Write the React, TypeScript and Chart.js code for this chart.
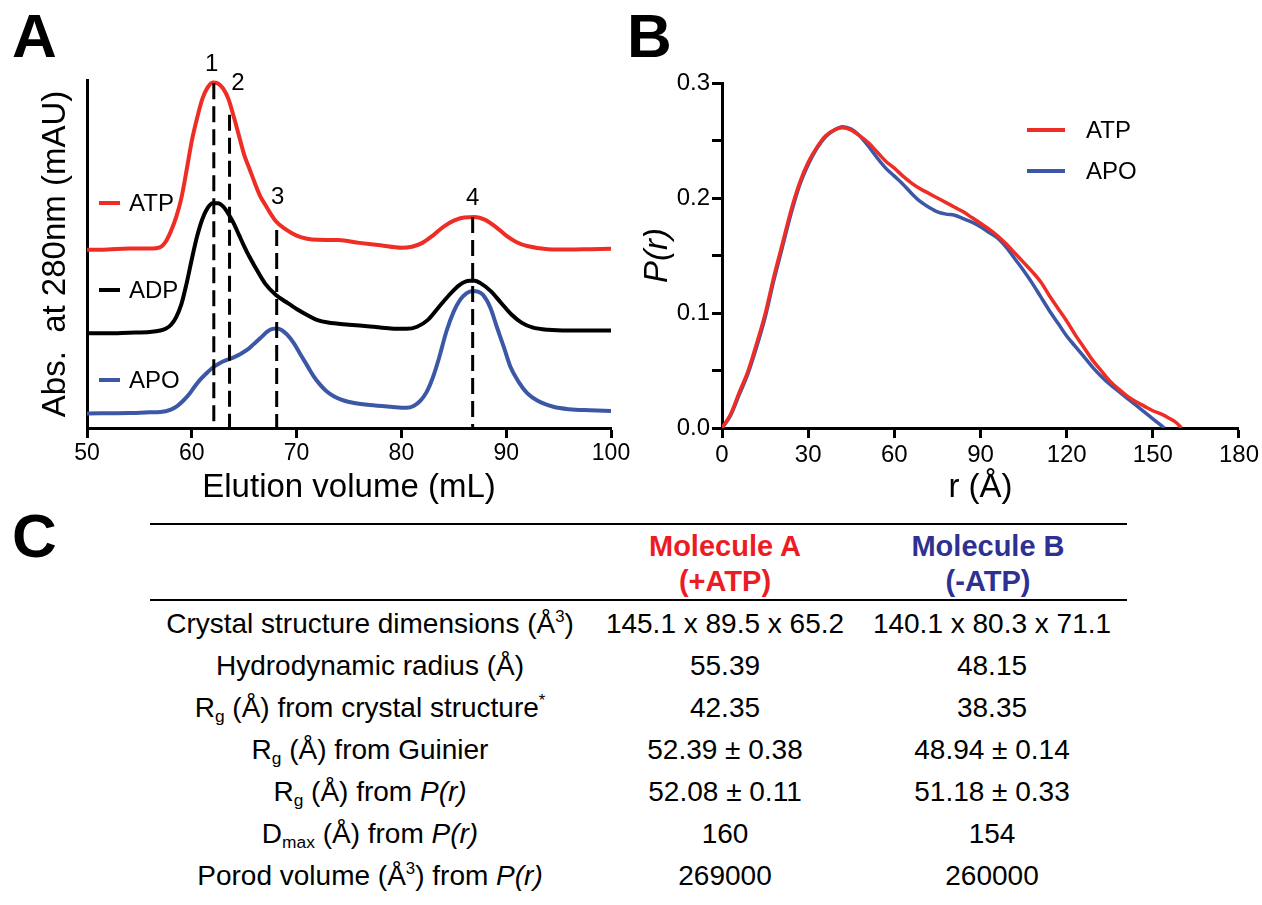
import React, { useEffect, useRef } from 'react';
import { Chart, registerables } from 'chart.js';

Chart.register(...registerables);

const FONT = '"Liberation Sans", Arial, Helvetica, sans-serif';
const RED = '#EE2D24';
const BLUE = '#3C57A6';
const BLACK = '#000000';

// ---------- Panel A: elution profiles (arbitrary absorbance units 0-100) ----------
const ATP_X = [50, 52, 54, 56, 57, 57.5, 58, 58.5, 59, 59.5, 60, 60.5, 61, 61.5, 62, 62.5, 63, 63.5, 64, 64.5, 65, 65.5, 66, 66.5, 67, 68, 69, 70, 71, 72, 74, 76, 78, 80, 81, 82, 83, 84, 85, 86, 87, 88, 89, 90, 91, 92, 94, 96, 98, 100];
const ATP_Y = [51.2, 51.3, 51.6, 51.6, 52.0, 53.5, 56.5, 60.5, 66, 74, 82.5, 89, 94.5, 97.8, 99.3, 99.0, 97.5, 94.5, 89.5, 84, 78.5, 74.5, 70.5, 66.8, 64.2, 59.5, 57, 55.3, 54.4, 54.1, 54.0, 53.2, 52.5, 51.8, 52.1, 53.2, 55.3, 57.8, 59.6, 60.5, 60.6, 59.8, 57.8, 55.3, 53.4, 52.3, 51.4, 51.3, 51.4, 51.5];

const ADP_X = [50, 52, 54, 56, 57, 57.5, 58, 58.5, 59, 59.5, 60, 60.5, 61, 61.5, 62, 62.5, 63, 63.5, 64, 64.5, 65, 65.5, 66, 67, 68, 69, 70, 71, 72, 73, 75, 77, 79, 80.5, 81.5, 82.5, 83.5, 84.5, 85.5, 86.5, 87, 87.5, 88.5, 89.5, 90.5, 91.5, 92.5, 94, 96, 100];
const ADP_Y = [27.2, 27.2, 27.4, 27.6, 28.0, 28.5, 29.6, 31.8, 35.5, 41.5, 48.5, 55, 60, 63.2, 64.6, 64.6, 63.6, 61.5, 58.8, 55.5, 52.2, 49.2, 46.5, 41.5, 38.3, 36.2, 34.2, 32.5, 31.0, 30.3, 29.7, 29.2, 28.6, 28.5, 29.1, 31.0, 34.5, 38.0, 41.0, 42.3, 42.3, 41.7, 39.4, 36.0, 32.6, 30.2, 28.9, 28.2, 28.0, 28.0];

const APO_X = [50, 54, 56, 57, 58, 58.6, 59.2, 59.8, 60.3, 60.8, 61.5, 62.1, 62.7, 63.3, 64, 64.6, 65.3, 65.9, 66.6, 67.2, 67.7, 68.1, 68.6, 69.1, 69.7, 70.3, 71, 71.6, 72.2, 72.8, 73.5, 74.5, 75.5, 77, 79, 80.5, 81.2, 81.8, 82.4, 83, 83.6, 84.3, 85, 85.6, 86.2, 86.8, 87.3, 87.8, 88.5, 89.1, 89.8, 90.4, 91.2, 92, 93, 94.5, 96, 98, 100];
const APO_Y = [4.2, 4.3, 4.5, 4.6, 5.3, 6.3, 7.9, 9.9, 12.0, 13.9, 16.0, 17.6, 18.7, 19.5, 20.3, 21.2, 22.5, 24.1, 26, 27.7, 28.5, 28.6, 28.1, 26.8, 24.5, 21.5, 18, 15.0, 12.6, 10.7, 9.2, 7.9, 7.2, 6.6, 6.1, 5.8, 6.4, 7.8, 10.3, 14.5, 20.2, 27.8, 33.5, 36.8, 38.7, 39.4, 39.2, 38.2, 34.5, 29.1, 23, 17.6, 13.2, 10.0, 7.8, 6.1, 5.4, 5.1, 4.9];

const PEAK_NAMES = ['1', '2', '3', '4'];
const PEAK_X = [62.1, 63.6, 68.1, 86.8];
const PEAK_TOP = [99.1, 90, 56.9, 60.6];
const PEAK_LABEL_X = [61.9, 64.4, 68.2, 86.8];
const PEAK_LABEL_Y = [104.5, 98.9, 66.4, 66.1];

const SERIES_A_NAMES = ['ATP', 'ADP', 'APO'];

// ---------- Panel B: pair distance distribution P(r) ----------
const PR_R_ATP = [0, 3, 6, 9, 12, 15, 18, 21, 24, 27, 30, 33, 36, 39, 42, 45, 48, 51, 54, 57, 60, 63, 66, 69, 72, 75, 78, 81, 84, 87, 90, 93, 96, 99, 102, 105, 108, 111, 114, 117, 120, 123, 126, 129, 132, 135, 138, 141, 144, 147, 150, 153, 156, 158, 160];
const PR_ATP = [0, 0.012, 0.031, 0.049, 0.073, 0.099, 0.131, 0.160, 0.189, 0.213, 0.231, 0.244, 0.254, 0.259, 0.261, 0.259, 0.254, 0.248, 0.240, 0.232, 0.226, 0.219, 0.213, 0.208, 0.204, 0.200, 0.196, 0.192, 0.188, 0.183, 0.178, 0.173, 0.167, 0.160, 0.152, 0.144, 0.136, 0.127, 0.115, 0.104, 0.093, 0.081, 0.070, 0.059, 0.050, 0.041, 0.034, 0.028, 0.023, 0.019, 0.015, 0.012, 0.008, 0.005, 0];

const PR_R_APO = [0, 3, 6, 9, 12, 15, 18, 21, 24, 27, 30, 33, 36, 39, 42, 45, 48, 51, 54, 57, 60, 63, 66, 69, 72, 75, 78, 81, 84, 87, 90, 93, 96, 99, 102, 105, 108, 111, 114, 117, 120, 123, 126, 129, 132, 135, 138, 141, 144, 147, 150, 152, 154];
const PR_APO = [0, 0.011, 0.029, 0.047, 0.070, 0.096, 0.128, 0.157, 0.186, 0.211, 0.229, 0.243, 0.253, 0.259, 0.262, 0.260, 0.254, 0.245, 0.235, 0.226, 0.219, 0.212, 0.204, 0.197, 0.192, 0.188, 0.186, 0.185, 0.182, 0.179, 0.175, 0.170, 0.165, 0.157, 0.147, 0.137, 0.126, 0.114, 0.102, 0.091, 0.080, 0.071, 0.062, 0.053, 0.045, 0.038, 0.032, 0.026, 0.020, 0.014, 0.008, 0.004, 0];

const SERIES_B_NAMES = ['ATP', 'APO'];

// ---------- Panel C: table ----------
const TABLE_HEAD_A = ['Molecule A', '(+ATP)'];
const TABLE_HEAD_B = ['Molecule B', '(-ATP)'];
const TABLE_COL_A = ['145.1 x 89.5 x 65.2', '55.39', '42.35', '52.39 ± 0.38', '52.08 ± 0.11', '160', '269000'];
const TABLE_COL_B = ['140.1 x 80.3 x 71.1', '48.15', '38.35', '48.94 ± 0.14', '51.18 ± 0.33', '154', '260000'];

const sub = (t: string) => <span style={{ fontSize: '0.62em', verticalAlign: '-0.3em', lineHeight: 0 }}>{t}</span>;
const sup = (t: string) => <span style={{ fontSize: '0.6em', verticalAlign: '0.65em', lineHeight: 0 }}>{t}</span>;

const TABLE_ROW_LABELS = [
  <>Crystal structure dimensions (Å{sup('3')})</>,
  <>Hydrodynamic radius (Å)</>,
  <>R{sub('g')} (Å) from crystal structure{sup('*')}</>,
  <>R{sub('g')} (Å) from Guinier</>,
  <>R{sub('g')} (Å) from <i>P(r)</i></>,
  <>D{sub('max')} (Å) from <i>P(r)</i></>,
  <>Porod volume (Å{sup('3')}) from <i>P(r)</i></>,
];

const pts = (xs: number[], ys: number[]) => xs.map((x, i) => ({ x, y: ys[i] }));

const annotationsA = {
  id: 'annotationsA',
  afterDatasetsDraw(chart: any) {
    const { ctx, chartArea, scales } = chart;
    const x = scales.x;
    const y = scales.y;
    ctx.save();
    ctx.fillStyle = BLACK;
    ctx.font = `24px ${FONT}`;
    ctx.textAlign = 'center';
    ctx.textBaseline = 'middle';
    PEAK_NAMES.forEach((t, i) => {
      ctx.fillText(t, x.getPixelForValue(PEAK_LABEL_X[i]), y.getPixelForValue(PEAK_LABEL_Y[i]));
    });
    // in-plot legend
    const colors = [RED, BLACK, BLUE];
    const rows = [123, 210, 300];
    ctx.textAlign = 'left';
    SERIES_A_NAMES.forEach((name, i) => {
      const yy = chartArea.top + rows[i];
      ctx.strokeStyle = colors[i];
      ctx.lineWidth = 4;
      ctx.beginPath();
      ctx.moveTo(chartArea.left + 12, yy);
      ctx.lineTo(chartArea.left + 33, yy);
      ctx.stroke();
      ctx.fillStyle = BLACK;
      ctx.fillText(name, chartArea.left + 42, yy + 1);
    });
    ctx.restore();
  },
};

const legendB = {
  id: 'legendB',
  afterDatasetsDraw(chart: any) {
    const { ctx, chartArea } = chart;
    ctx.save();
    ctx.font = `24px ${FONT}`;
    ctx.textAlign = 'left';
    ctx.textBaseline = 'middle';
    const colors = [RED, BLUE];
    const rows = [47, 88];
    SERIES_B_NAMES.forEach((name, i) => {
      const yy = chartArea.top + rows[i];
      ctx.strokeStyle = colors[i];
      ctx.lineWidth = 4;
      ctx.beginPath();
      ctx.moveTo(chartArea.left + 305, yy);
      ctx.lineTo(chartArea.left + 343, yy);
      ctx.stroke();
      ctx.fillStyle = BLACK;
      ctx.fillText(name, chartArea.left + 364, yy + 1);
    });
    ctx.restore();
  },
};

function ChartA() {
  const ref = useRef<HTMLCanvasElement>(null);
  useEffect(() => {
    const chart = new Chart(ref.current as HTMLCanvasElement, {
      type: 'line',
      data: {
        datasets: [
          ...PEAK_X.map((px, i) => ({
            label: 'Peak ' + PEAK_NAMES[i],
            data: [{ x: px, y: PEAK_TOP[i] }, { x: px, y: 0 }],
            borderColor: BLACK,
            borderWidth: 3,
            borderDash: [16, 7],
            pointRadius: 0,
            order: 0,
          })),
          { label: 'ATP', data: pts(ATP_X, ATP_Y), borderColor: RED, borderWidth: 4, pointRadius: 0, cubicInterpolationMode: 'monotone', order: 1 },
          { label: 'ADP', data: pts(ADP_X, ADP_Y), borderColor: BLACK, borderWidth: 4, pointRadius: 0, cubicInterpolationMode: 'monotone', order: 2 },
          { label: 'APO', data: pts(APO_X, APO_Y), borderColor: BLUE, borderWidth: 4, pointRadius: 0, cubicInterpolationMode: 'monotone', order: 3 },
        ],
      } as any,
      options: {
        responsive: false,
        animation: false,
        events: [],
        layout: { padding: { left: 0, top: 80, right: 29, bottom: 0 } },
        plugins: { legend: { display: false }, tooltip: { enabled: false } },
        scales: {
          x: {
            type: 'linear',
            min: 50,
            max: 100,
            ticks: { stepSize: 10, color: BLACK, font: { family: FONT, size: 23 }, padding: 2, maxRotation: 0, autoSkip: false },
            grid: { drawOnChartArea: false, drawTicks: true, tickLength: 10, tickWidth: 3, tickColor: BLACK },
            border: { display: true, color: BLACK, width: 3 },
            title: { display: true, text: 'Elution volume (mL)', color: BLACK, font: { family: FONT, size: 33 }, padding: { top: 0, bottom: 12 } },
            afterFit: (s: any) => { s.height = 92; },
          },
          y: {
            type: 'linear',
            min: 0,
            max: 100,
            ticks: { display: false },
            grid: { drawOnChartArea: false, drawTicks: false },
            border: { display: true, color: BLACK, width: 3 },
            title: { display: true, text: 'Abs.  at 280nm (mAU)', color: BLACK, font: { family: FONT, size: 33 }, padding: { top: 36, bottom: 0 } },
            afterFit: (s: any) => { s.width = 87; },
          },
        },
      } as any,
      plugins: [annotationsA],
    });
    return () => chart.destroy();
  }, []);
  return <canvas ref={ref} width={640} height={520} style={{ position: 'absolute', left: 0, top: 0 }} />;
}

function ChartB() {
  const ref = useRef<HTMLCanvasElement>(null);
  useEffect(() => {
    const chart = new Chart(ref.current as HTMLCanvasElement, {
      type: 'line',
      data: {
        datasets: [
          { label: 'ATP', data: pts(PR_R_ATP, PR_ATP), borderColor: RED, borderWidth: 3.5, pointRadius: 0, cubicInterpolationMode: 'monotone', order: 0 },
          { label: 'APO', data: pts(PR_R_APO, PR_APO), borderColor: BLUE, borderWidth: 3.5, pointRadius: 0, cubicInterpolationMode: 'monotone', order: 1 },
        ],
      } as any,
      options: {
        responsive: false,
        animation: false,
        events: [],
        layout: { padding: { left: 0, top: 83, right: 22, bottom: 0 } },
        plugins: { legend: { display: false }, tooltip: { enabled: false } },
        scales: {
          x: {
            type: 'linear',
            min: 0,
            max: 180,
            ticks: { stepSize: 30, color: BLACK, font: { family: FONT, size: 24 }, padding: 3, maxRotation: 0, autoSkip: false },
            grid: { drawOnChartArea: false, drawTicks: true, tickLength: 10, tickWidth: 3, tickColor: BLACK },
            border: { display: true, color: BLACK, width: 3 },
            title: { display: true, text: 'r (Å)', color: BLACK, font: { family: FONT, size: 33 }, padding: { top: 0, bottom: 12 } },
            afterFit: (s: any) => { s.height = 92; },
          },
          y: {
            type: 'linear',
            min: 0,
            max: 0.3,
            ticks: {
              stepSize: 0.05,
              color: BLACK,
              font: { family: FONT, size: 24 },
              padding: 2,
              autoSkip: false,
              callback: (v: any) => {
                const k = Math.round(Number(v) * 100);
                return k % 10 === 0 ? (k / 100).toFixed(1) : '';
              },
            },
            grid: { drawOnChartArea: false, drawTicks: true, tickLength: 10, tickWidth: 3, tickColor: BLACK },
            border: { display: true, color: BLACK, width: 3 },
            title: { display: true, text: 'P(r)', color: BLACK, font: { family: FONT, size: 33, style: 'italic' }, padding: { top: 18, bottom: 0 } },
            afterFit: (s: any) => { s.width = 102; },
          },
        },
      } as any,
      plugins: [legendB],
    });
    return () => chart.destroy();
  }, []);
  return <canvas ref={ref} width={642} height={520} style={{ position: 'absolute', left: 620, top: 0 }} />;
}

const centered = (x: number, y: number, extra: React.CSSProperties = {}): React.CSSProperties => ({
  position: 'absolute',
  left: x,
  top: y,
  transform: 'translate(-50%, -50%)',
  whiteSpace: 'nowrap',
  lineHeight: 1,
  ...extra,
});

function TableC() {
  const rowY = (i: number) => 624 + i * 42;
  return (
    <>
      <div style={{ position: 'absolute', left: 150, top: 523, width: 977, height: 2, background: BLACK }} />
      <div style={{ position: 'absolute', left: 150, top: 599, width: 977, height: 2, background: BLACK }} />
      {TABLE_HEAD_A.map((t, i) => (
        <div key={'ha' + i} style={centered(725, 546 + i * 35, { color: '#EC1C24', fontWeight: 'bold', fontSize: 29 })}>{t}</div>
      ))}
      {TABLE_HEAD_B.map((t, i) => (
        <div key={'hb' + i} style={centered(988, 546 + i * 35, { color: '#2E3192', fontWeight: 'bold', fontSize: 29 })}>{t}</div>
      ))}
      {TABLE_ROW_LABELS.map((lab, i) => (
        <div key={'l' + i} style={centered(370, rowY(i), { fontSize: 28 })}>{lab}</div>
      ))}
      {TABLE_COL_A.map((t, i) => (
        <div key={'a' + i} style={centered(725, rowY(i), { fontSize: 28 })}>{t}</div>
      ))}
      {TABLE_COL_B.map((t, i) => (
        <div key={'b' + i} style={centered(992, rowY(i), { fontSize: 28 })}>{t}</div>
      ))}
    </>
  );
}

export default function App() {
  const letter: React.CSSProperties = { position: 'absolute', fontWeight: 'bold', fontSize: 62, lineHeight: 1, color: BLACK };
  return (
    <div style={{ position: 'absolute', left: 0, top: 0, width: 1262, height: 905, background: '#fff', fontFamily: FONT, color: BLACK, overflow: 'hidden' }}>
      <ChartA />
      <ChartB />
      <div style={{ ...letter, left: 12, top: 5 }}>A</div>
      <div style={{ ...letter, left: 627, top: 5 }}>B</div>
      <div style={{ ...letter, left: 12, top: 505 }}>C</div>
      <TableC />
    </div>
  );
}
